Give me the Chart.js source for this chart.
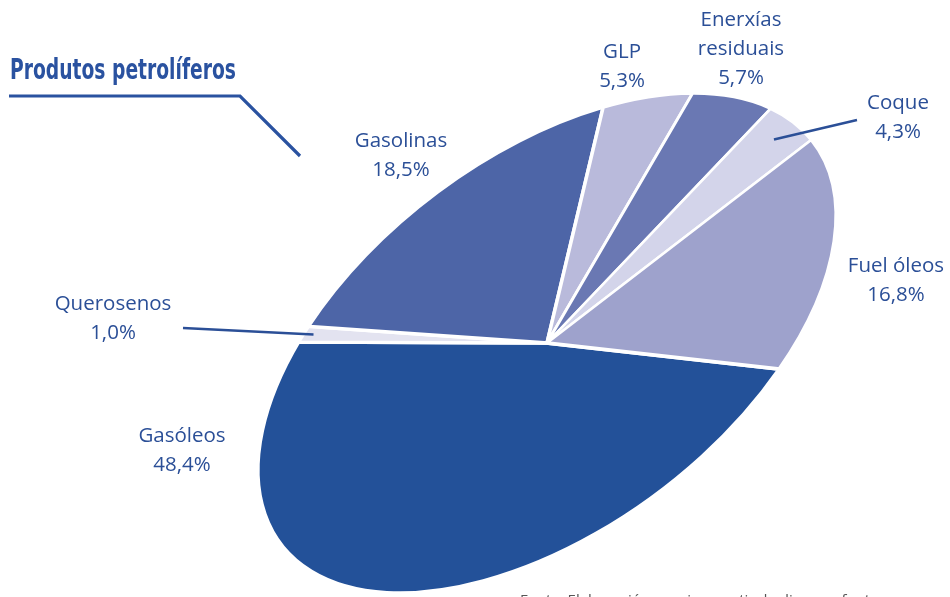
<!DOCTYPE html>
<html>
<head>
<meta charset="utf-8">
<title>Produtos petrolíferos</title>
<script src="https://cdn.jsdelivr.net/npm/chart.js@4"></script>
<style>
  html, body { margin: 0; padding: 0; background: #fff; }
  #wrap { position: relative; width: 950px; height: 597px; }
</style>
</head>
<body>
<div id="wrap"><canvas id="myChart" width="950" height="597"></canvas></div>
<script>
// shares of each product, clockwise from Gasóleos
const categories = ['Gasóleos', 'Querosenos', 'Gasolinas', 'GLP', 'Enerxías residuais', 'Coque', 'Fuel óleos'];
const shares = [48.4, 1.0, 18.5, 5.3, 5.7, 4.3, 16.8];
const sliceColors = ['#235199', '#e3e3f0', '#4d65a7', '#b9badb', '#6a78b3', '#d3d4ea', '#9ea2cc'];

const titleText = 'Produtos petrolíferos';
const sourceText = 'Fonte: Elaboración propia a partir de diversas fontes';

// the pie is drawn as a tilted ellipse
const pieCenter = { x: 547, y: 343 };
const semiMajor = 334;
const semiMinor = 186;
const tilt = -37 * Math.PI / 180;

// label anchors: centre x and baseline of the first line
const labelPos = [
    { x: 182, y: 442 },
    { x: 113, y: 310 },
    { x: 401, y: 147 },
    { x: 622, y: 58 },
    { x: 741, y: 26 },
    { x: 898, y: 109 },
    { x: 896, y: 272 }
];
// leader lines: outer end and how far into the slice they reach
const leaders = {
    1: { x: 183, y: 328, depth: 0.96 },
    5: { x: 857, y: 120, depth: 0.92 }
};

const textBlue = '#2b4f97';

function formatShare(v) {
    return v.toFixed(1).replace('.', ',') + '%';
}

function labelLines(i) {
    const name = categories[i];
    const lines = name === 'Enerxías residuais' ? name.split(' ') : [name];
    lines.push(formatShare(shares[i]));
    return lines;
}

// maps the round pie onto the ellipse
function applyEllipse(ctx, arc) {
    const r = arc.outerRadius;
    ctx.translate(pieCenter.x, pieCenter.y);
    ctx.rotate(tilt);
    ctx.scale(semiMajor / r, semiMinor / r);
    ctx.translate(-arc.x, -arc.y);
}

function ellipsePoint(angle, depth) {
    const ex = semiMajor * depth * Math.cos(angle);
    const ey = semiMinor * depth * Math.sin(angle);
    return {
        x: pieCenter.x + ex * Math.cos(tilt) - ey * Math.sin(tilt),
        y: pieCenter.y + ex * Math.sin(tilt) + ey * Math.cos(tilt)
    };
}

const ellipsePlugin = {
    id: 'ellipsePie',
    beforeDatasetsDraw(chart) {
        const arc = chart.getDatasetMeta(0).data[0];
        chart.ctx.save();
        applyEllipse(chart.ctx, arc);
    },
    afterDatasetsDraw(chart) {
        chart.ctx.restore();
    },
    afterDraw(chart) {
        const ctx = chart.ctx;
        const arcs = chart.getDatasetMeta(0).data;
        ctx.save();

        // title with its bent rule
        ctx.fillStyle = '#2a52a0';
        ctx.font = 'bold 28px "Liberation Sans Narrow", "DejaVu Sans Condensed", sans-serif';
        ctx.textAlign = 'left';
        ctx.textBaseline = 'alphabetic';
        const tw = ctx.measureText(titleText).width;
        ctx.save();
        ctx.translate(10, 79);
        ctx.scale(226 / tw, 1);
        ctx.fillText(titleText, 0, 0);
        ctx.restore();

        ctx.strokeStyle = '#2a52a0';
        ctx.lineWidth = 3.2;
        ctx.beginPath();
        ctx.moveTo(9, 96);
        ctx.lineTo(240, 96);
        ctx.lineTo(300, 156);
        ctx.stroke();

        // leader lines
        ctx.strokeStyle = textBlue;
        ctx.lineWidth = 2.5;
        Object.keys(leaders).forEach(k => {
            const a = arcs[k];
            const mid = (a.startAngle + a.endAngle) / 2;
            const p = ellipsePoint(mid, leaders[k].depth);
            ctx.beginPath();
            ctx.moveTo(leaders[k].x, leaders[k].y);
            ctx.lineTo(p.x, p.y);
            ctx.stroke();
        });

        // slice labels
        ctx.fillStyle = textBlue;
        ctx.font = '20.5px "Open Sans", "Noto Sans", sans-serif';
        ctx.textAlign = 'center';
        categories.forEach((_, i) => {
            labelLines(i).forEach((line, j) => {
                ctx.fillText(line, labelPos[i].x, labelPos[i].y + j * 28.8);
            });
        });

        // source note along the bottom edge
        ctx.fillStyle = '#555';
        ctx.font = '15px "Open Sans", sans-serif';
        ctx.textAlign = 'left';
        ctx.fillText(sourceText, 520, 605);

        ctx.restore();
    }
};

new Chart(document.getElementById('myChart'), {
    type: 'pie',
    data: {
        labels: categories,
        datasets: [{
            data: shares,
            backgroundColor: sliceColors,
            borderColor: '#ffffff',
            borderWidth: 4,
            hoverOffset: 0
        }]
    },
    options: {
        responsive: false,
        animation: false,
        rotation: 149.5,
        layout: { padding: 0 },
        plugins: {
            legend: { display: false },
            tooltip: { enabled: false }
        }
    },
    plugins: [ellipsePlugin]
});
</script>
</body>
</html>
